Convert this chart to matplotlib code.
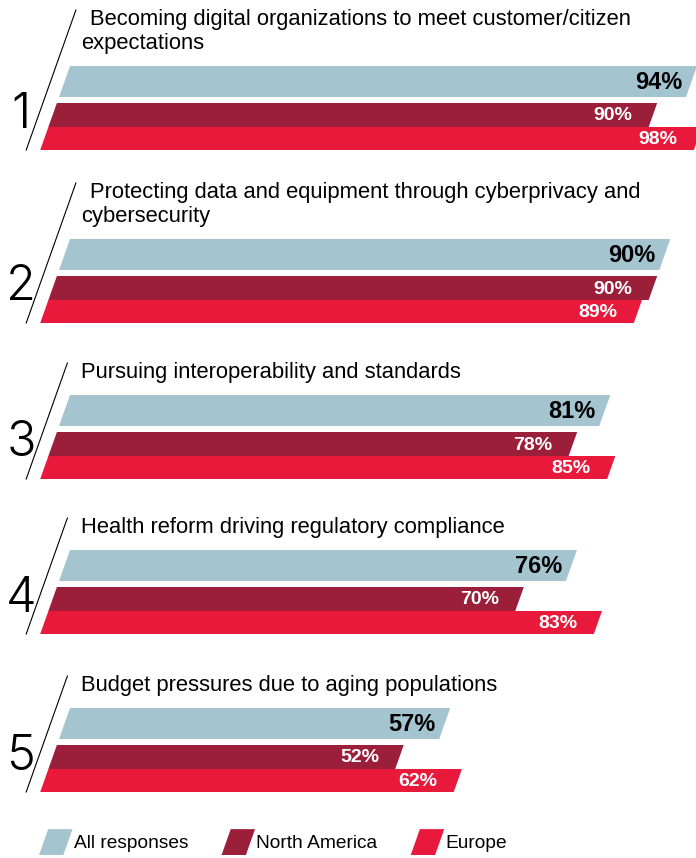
import matplotlib
matplotlib.use('Agg')
import matplotlib.pyplot as plt
from matplotlib.transforms import Affine2D
from matplotlib.patches import Patch, Polygon
from matplotlib.legend_handler import HandlerPatch

# data
ranks = ['1', '2', '3', '4', '5']
titles = [
    'Becoming digital organizations to meet customer/citizen\nexpectations',
    'Protecting data and equipment through cyberprivacy and\ncybersecurity',
    'Pursuing interoperability and standards',
    'Health reform driving regulatory compliance',
    'Budget pressures due to aging populations',
]
all_responses = [94, 90, 81, 76, 57]
north_america = [90, 90, 78, 70, 52]
europe = [98, 89, 85, 83, 62]
series_names = ['All responses', 'North America', 'Europe']
colors = ['#A4C4D0', '#9B1F3B', '#E8193A']

plt.rcParams['font.family'] = ['Liberation Sans', 'DejaVu Sans']

W, H = 696, 858
fig = plt.figure(figsize=(W / 100, H / 100), dpi=100)
ax = fig.add_axes([0, 0, 1, 1])
XMIN, XMAX = -10.5, 93.85
ax.set_xlim(XMIN, XMAX)
ax.set_ylim(H, 0)
ax.axis('off')

px = W / (XMAX - XMIN)   # pixels per percent point
slant = 0.355            # horizontal shift per pixel of height

group_top = [66, 239, 395, 550, 708]
rows = [(0, 31), (37, 61), (61, 84)]   # bar top/bottom offsets from group top


def skew(top):
    # shear in data space, pivot on the group's top edge
    return Affine2D.from_values(1, 0, -slant / px, 1, slant * top / px, 0) + ax.transData


def xpix(p):
    return XMIN + p / px


series = [all_responses, north_america, europe]
for g, top in enumerate(group_top):
    tr = skew(top)
    for s, vals in enumerate(series):
        y0, y1 = top + rows[s][0], top + rows[s][1]
        yc = (y0 + y1) / 2
        bars = ax.barh(yc, vals[g], height=y1 - y0, left=0, color=colors[s],
                       linewidth=0)
        for b in bars:
            b.set_transform(tr)
            b.set_clip_on(False)
        if s == 0:
            ax.text(vals[g] - 9 / px, yc + 1, f'{vals[g]}%', transform=tr,
                    ha='right', va='center', fontsize=17, fontweight='bold',
                    color='black')
        else:
            ax.text(vals[g] - 20 / px, yc + 1, f'{vals[g]}%', transform=tr,
                    ha='right', va='center', fontsize=14, fontweight='bold',
                    color='white')

    lines = titles[g].split('\n')
    base = top - 17 - 24 * (len(lines) - 1)
    for i, ln in enumerate(lines):
        xoff = 90 if (len(lines) > 1 and i == 0) else 81
        ax.text(xpix(xoff), base + 24 * i, ln, ha='left', va='baseline',
                fontsize=15.8, color='black')

    # slash and rank number
    ax.plot([-2.1, -2.1], [base - 15, top + 84], color='black', lw=0.8,
            transform=tr, clip_on=False)
    ax.text(xpix(21), top + 61.5, ranks[g], ha='center', va='baseline',
            fontsize=35, fontweight=300, family=['Inter', 'Liberation Sans'])


class ParaHandler(HandlerPatch):
    def create_artists(self, legend, orig_handle, xdescent, ydescent, width,
                       height, fontsize, trans):
        sl = slant * height
        x0, y0 = -xdescent, -ydescent
        verts = [(x0, y0), (x0 + width - sl, y0), (x0 + width, y0 + height),
                 (x0 + sl, y0 + height)]
        p = Polygon(verts, closed=True, facecolor=orig_handle.get_facecolor(),
                    edgecolor='none', transform=trans)
        return [p]


handles = [Patch(facecolor=c) for c in colors]
fig.legend(handles, series_names, handler_map={Patch: ParaHandler()},
           loc='lower left', bbox_to_anchor=(39 / W, 3 / H), ncol=3,
           frameon=False, fontsize=13.8, handlelength=1.75, handleheight=1.7,
           handletextpad=0.05, columnspacing=1.75, borderpad=0, borderaxespad=0)

fig.savefig('out.png', dpi=100)
